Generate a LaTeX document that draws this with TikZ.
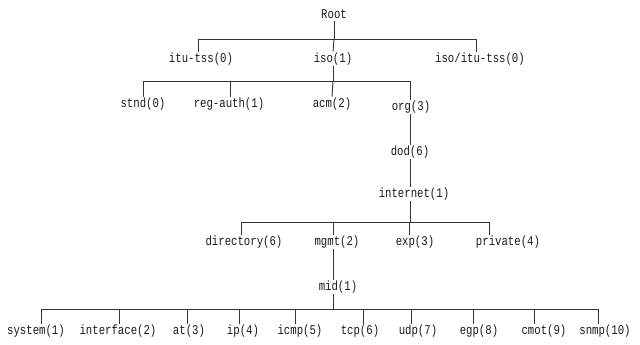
\documentclass[tikz,border=0pt]{standalone}
\usepackage{fontspec}
\setmonofont[FakeStretch=0.8]{Liberation Mono}
\usetikzlibrary{positioning,calc}

\begin{document}
\begin{tikzpicture}[
    x=0.75pt, y=-0.75pt,
    every node/.style={font=\ttfamily\fontsize{10}{12}\selectfont, text=black!90,
        inner sep=0pt, minimum height=10.5pt},
    link/.style={draw=black!80, line width=0.7pt},
]
\useasboundingbox (0,0) rectangle (640,345);

% top levels
\node (root)    at (334,14)  {Root};
\node (itutss)  at (201,59)  {itu-tss(0)};
\node (iso)     at (333,59)  {iso(1)};
\node (joint)   at (480,59)  {iso/itu-tss(0)};

\draw[link] (root.south) -- ++(0,18) coordinate (root-bar);
\draw[link] ($(itutss.north)+(-3,0)$) |- (root-bar);
\draw[link] (iso.north) -- (root-bar);
\draw[link] ($(joint.north)+(-4,0)$) |- (root-bar);

% under iso
\node (stnd)    at (143,104) {stnd(0)};
\node (regauth) at (229,104) {reg-auth(1)};
\node (acm)     at (332,104) {acm(2)};
\node (org)     at (411,107) {org(3)};

\draw[link] (iso.south) -- ++(0,15) coordinate (iso-bar);
\draw[link] (stnd.north) |- (iso-bar);
\draw[link] ($(regauth.north)+(1,0)$) |- (iso-bar);
\draw[link] (acm.north) -- (iso-bar);
\draw[link] ($(org.north)+(-1,0)$) |- (iso-bar);

% org -> dod -> internet
\node (dod)      at (410,152) {dod(6)};
\node (internet) at (414,194) {internet(1)};
\draw[link] ($(org.south)+(-1,0)$) -- (dod.north);
\draw[link] (dod.south) -- ($(internet.north)+(-4,0)$);

% under internet
\node (directory) at (244,242) {directory(6)};
\node (mgmt)      at (337,242) {mgmt(2)};
\node (exp)       at (415,242) {exp(3)};
\node (private)   at (508,242) {private(4)};

\draw[link] ($(internet.south)+(-4,0)$) -- ++(0,21) coordinate (internet-bar);
\draw[link] ($(directory.north)+(-3,0)$) |- (internet-bar);
\draw[link] ($(mgmt.north)+(-4,0)$) |- (internet-bar);
\draw[link] ($(exp.north)+(-6,0)$) |- (internet-bar);
\draw[link] ($(private.north)+(-19,0)$) |- (internet-bar);

% mid and its groups
\node (mid) at (338,287) {mid(1)};
\draw[link] ($(mgmt.south)+(-4,0)$) -- ($(mid.north)+(-5,0)$);
\draw[link] ($(mid.south)+(-5,0)$) -- ++(0,15) coordinate (mid-bar);

\foreach \n/\lbl/\x/\d in {system/system(1)/36/5, interface/interface(2)/118/1,
        at/at(3)/189/-2, ip/ip(4)/243/-4, icmp/icmp(5)/300/-5, tcp/tcp(6)/360/3,
        udp/udp(7)/418/-7, egp/egp(8)/479/-6, cmot/cmot(9)/544/-10, snmp/snmp(10)/605/-7} {
    \node (\n) at (\x,331) {\lbl};
    \draw[link] ($(\n.north)+(\d,0)$) |- (mid-bar);
}
\end{tikzpicture}
\end{document}
